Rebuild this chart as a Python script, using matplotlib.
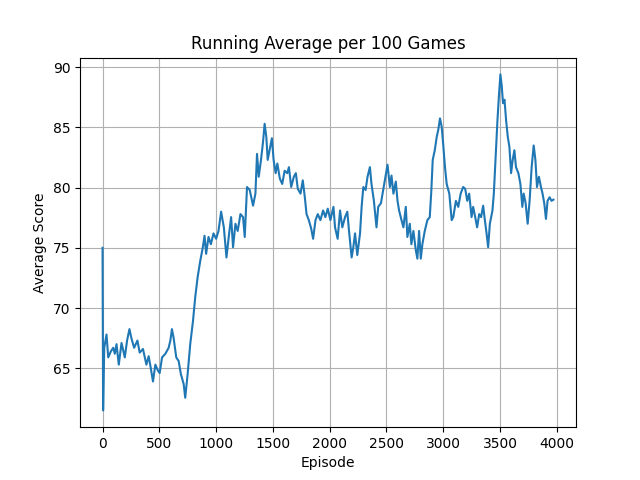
import matplotlib
matplotlib.use("Agg")
from matplotlib import pyplot as plt

# running average values
episodes = [0, 5, 15, 35, 50, 73, 94, 108, 123, 143, 167, 196, 216, 237, 254,
            278, 307, 327, 356, 386, 406, 424, 444, 465, 488, 503, 524, 553,
            582, 597, 611, 626, 649, 670, 690, 714, 728, 749, 772, 796, 816,
            837, 860, 883, 898, 912, 933, 954, 977, 1000, 1021, 1044, 1068,
            1091, 1111, 1132, 1149, 1170, 1190, 1214, 1237, 1252, 1272, 1296,
            1325, 1346, 1360, 1375, 1395, 1412, 1427, 1442, 1454, 1477, 1491,
            1506, 1524, 1539, 1561, 1582, 1603, 1626, 1641, 1661, 1684, 1702,
            1719, 1743, 1763, 1781, 1796, 1816, 1837, 1854, 1875, 1895, 1918,
            1942, 1962, 1983, 2006, 2033, 2047, 2070, 2091, 2111, 2135, 2155,
            2170, 2193, 2208, 2223, 2243, 2267, 2281, 2296, 2316, 2333, 2354,
            2368, 2389, 2412, 2427, 2451, 2471, 2491, 2509, 2530, 2544, 2561,
            2582, 2597, 2611, 2632, 2649, 2670, 2684, 2705, 2719, 2737, 2758,
            2772, 2787, 2802, 2816, 2837, 2860, 2881, 2895, 2907, 2925, 2942,
            2956, 2971, 2986, 3000, 3015, 3030, 3053, 3074, 3088, 3111, 3132,
            3153, 3175, 3193, 3211, 3228, 3249, 3263, 3281, 3298, 3316, 3333,
            3351, 3366, 3381, 3395, 3410, 3433, 3445, 3462, 3477, 3491, 3503,
            3515, 3526, 3539, 3553, 3568, 3582, 3597, 3611, 3626, 3640, 3661,
            3679, 3696, 3708, 3725, 3743, 3760, 3778, 3796, 3811, 3825, 3842,
            3860, 3874, 3889, 3904, 3918, 3936, 3953, 3970]
avg_score = [75.0, 61.5, 66.7, 67.8, 65.9, 66.4, 66.7, 66.2, 67.0, 65.3, 67.1,
             65.9, 67.3, 68.25, 67.5, 66.7, 67.3, 66.3, 66.6, 65.3, 66.0, 65.05,
             63.9, 65.3, 64.8, 64.6, 65.9, 66.2, 66.7, 67.3, 68.25, 67.5, 65.9,
             65.6, 64.5, 63.7, 62.55, 64.5, 67.0, 68.9, 70.9, 72.55, 73.9, 75.05,
             76.0, 74.5, 75.9, 75.3, 76.2, 75.75, 76.4, 78.0, 76.7, 74.2, 75.9,
             77.55, 75.05, 77.0, 76.4, 77.8, 77.55, 75.9, 80.05, 79.8, 78.5,
             79.5, 82.8, 80.9, 82.3, 83.7, 85.3, 84.2, 82.3, 83.4, 84.1, 82.3,
             81.2, 82.0, 80.75, 80.3, 81.4, 81.2, 81.7, 80.05, 80.9, 81.2, 79.9,
             79.5, 80.6, 79.2, 77.8, 77.3, 76.6, 75.75, 77.3, 77.8, 77.3, 78.1,
             77.55, 78.25, 77.3, 78.4, 76.7, 75.75, 78.1, 76.7, 77.55, 78.0,
             76.4, 74.2, 75.05, 76.2, 74.4, 76.2, 78.4, 80.05, 79.8, 80.9, 81.7,
             80.3, 78.9, 76.7, 78.4, 78.7, 79.8, 80.9, 81.9, 80.05, 81.0, 79.5,
             80.5, 78.9, 78.1, 77.3, 76.7, 78.4, 75.9, 77.0, 75.3, 76.4, 74.8,
             74.1, 76.4, 74.1, 75.3, 76.4, 77.3, 77.55, 79.8, 82.3, 83.1, 84.2,
             84.8, 85.75, 85.05, 83.5, 81.7, 80.3, 79.5, 77.3, 77.55, 78.9, 78.4,
             79.5, 80.05, 79.9, 78.9, 79.5, 77.55, 78.4, 77.55, 76.7, 77.8, 77.55,
             78.5, 77.3, 76.2, 75.05, 77.0, 78.1, 79.5, 82.8, 85.6, 87.8, 89.4,
             88.4, 87.0, 87.3, 85.6, 84.2, 83.4, 81.2, 82.3, 83.1, 81.7, 81.2,
             80.3, 78.4, 79.5, 78.7, 77.0, 78.9, 81.7, 83.5, 82.3, 80.05, 80.9,
             80.05, 79.5, 78.7, 77.4, 78.9, 79.2, 78.9, 79.0]

plt.rcdefaults()
plt.figure(figsize=(6.4, 4.8), dpi=100)
plt.plot(episodes, avg_score)
plt.title('Running Average per 100 Games')
plt.xlabel('Episode')
plt.ylabel('Average Score')
plt.grid(True)
plt.savefig('out.png')
